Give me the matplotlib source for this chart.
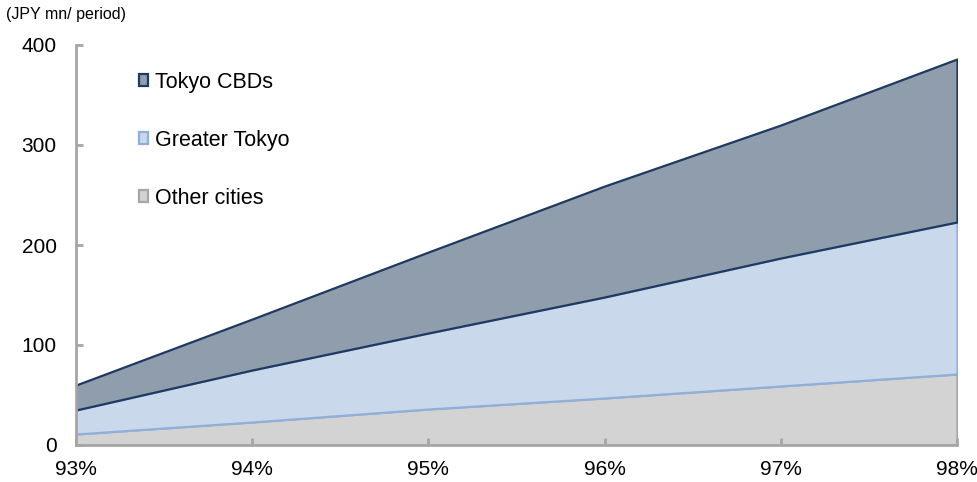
#!/usr/bin/env python3

"""Stacked area chart of income by region across occupancy levels."""

import matplotlib
matplotlib.use("Agg")
import matplotlib.pyplot as plt
from matplotlib.patches import Patch

occupancy = [93, 94, 95, 96, 97, 98]
occupancy_labels = ["93%", "94%", "95%", "96%", "97%", "98%"]
other_cities = [11, 23, 36, 47, 59, 71]
greater_tokyo = [24, 52, 76, 101, 128, 152]
tokyo_cbds = [25, 51, 81, 111, 133, 163]

series_names = ["Other cities", "Greater Tokyo", "Tokyo CBDs"]
fills = ["#d3d3d3", "#c9d8eb", "#8f9dad"]
edges = ["#a6a6a6", "#8eb0da", "#1e3a60"]


def main():
    plt.rcParams.update({
        "font.family": ["Liberation Sans", "DejaVu Sans"],
        "font.size": 15,
    })
    fig = plt.figure(figsize=(9.78, 4.82), dpi=100)
    ax = fig.add_axes([76 / 978, 1 - 445 / 482, (957 - 76) / 978, 400 / 482])

    polys = ax.stackplot(occupancy, other_cities, greater_tokyo, tokyo_cbds,
                         colors=fills, zorder=1)
    for poly, ec in zip(polys, edges):
        poly.set_edgecolor(ec)
        poly.set_linewidth(1.6)

    ax.set_xlim(occupancy[0], occupancy[-1])
    ax.set_ylim(0, 400)
    ax.set_xticks(occupancy)
    ax.set_xticklabels(occupancy_labels)
    ax.set_yticks([0, 100, 200, 300, 400])

    for side in ["top", "right"]:
        ax.spines[side].set_visible(False)
    for side in ["left", "bottom"]:
        ax.spines[side].set_color("#a6a6a6")
        ax.spines[side].set_linewidth(2)
        ax.spines[side].set_zorder(3)
    ax.tick_params(direction="in", length=5, width=2, color="#a6a6a6",
                   labelsize=15, labelcolor="black")
    ax.tick_params(axis="x", pad=11)
    ax.tick_params(axis="y", pad=14)

    fig.text(6 / 978, 1 - 14 / 482, "(JPY mn/ period)", fontsize=11.5,
             va="center", ha="left")

    # Legend: top series listed first
    handles = [Patch(facecolor=f, edgecolor=e, linewidth=1.6, label=n)
               for n, f, e in zip(series_names, fills, edges)][::-1]
    ax.legend(handles=handles, loc="upper left", bbox_to_anchor=(0.0615, 0.955),
              frameon=False, handlelength=0.45, handleheight=0.45,
              handletextpad=0.3, labelspacing=1.72, borderaxespad=0,
              fontsize=15.5)

    fig.savefig("out.png", dpi=100)
    plt.close(fig)


if __name__ == "__main__":
    main()
